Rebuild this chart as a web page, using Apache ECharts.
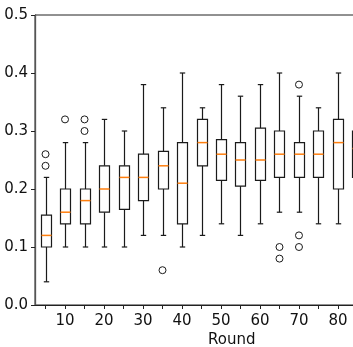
<!DOCTYPE html>
<html style="height: 100%; width: 100%;">
<head>
    <meta charset="utf-8">
    <title>Boxplot per round</title>
    <script src="https://cdn.jsdelivr.net/npm/echarts@6/dist/echarts.min.js"></script>
    <style>
        body, html {
            margin: 0;
            padding: 0;
            width: 100%;
            height: 100%;
            overflow: hidden;
            background: #fff;
        }

        #main {
            width: 353px;
            height: 347px;
        }
    </style>
</head>
<body>
<div id="main"></div>
<script type="text/javascript">
    // rounds and box stats
    var rounds = [5, 10, 15, 20, 25, 30, 35, 40, 45, 50, 55, 60, 65, 70, 75, 80, 85];
    var lowWhisker = [0.04, 0.10, 0.10, 0.10, 0.10, 0.12, 0.12, 0.10, 0.12, 0.14, 0.12, 0.14, 0.16, 0.16, 0.14, 0.14, 0.14];
    var q1 =         [0.10, 0.14, 0.14, 0.16, 0.165, 0.18, 0.20, 0.14, 0.24, 0.215, 0.205, 0.215, 0.22, 0.22, 0.22, 0.20, 0.22];
    var median =     [0.12, 0.16, 0.18, 0.20, 0.22, 0.22, 0.24, 0.21, 0.28, 0.26, 0.25, 0.25, 0.26, 0.26, 0.26, 0.28, 0.27];
    var q3 =         [0.155, 0.20, 0.20, 0.24, 0.24, 0.26, 0.265, 0.28, 0.32, 0.285, 0.28, 0.305, 0.30, 0.28, 0.30, 0.32, 0.30];
    var highWhisker = [0.22, 0.28, 0.28, 0.32, 0.30, 0.38, 0.34, 0.40, 0.34, 0.38, 0.36, 0.38, 0.40, 0.36, 0.34, 0.40, 0.38];

    var outlierRounds = [5, 5, 10, 15, 15, 35, 65, 65, 70, 70, 70];
    var outlierValues = [0.26, 0.24, 0.32, 0.32, 0.30, 0.06, 0.10, 0.08, 0.38, 0.12, 0.10];

    var xTicks = rounds;
    var xLabels = [10, 20, 30, 40, 50, 60, 70, 80];

    var boxData = rounds.map(function (r, i) {
        return [r, lowWhisker[i], q1[i], median[i], q3[i], highWhisker[i]];
    });
    var outlierData = outlierRounds.map(function (r, i) {
        return [r, outlierValues[i]];
    });

    function renderBox(params, api) {
        var x = api.value(0);
        var lo = api.coord([x, api.value(1)]);
        var b1 = api.coord([x, api.value(2)]);
        var md = api.coord([x, api.value(3)]);
        var b3 = api.coord([x, api.value(4)]);
        var hi = api.coord([x, api.value(5)]);
        var cx = Math.round(lo[0]) + 0.5;
        var hw = 5;   // half box width
        var cw = 2.7; // half cap width
        var dark = { stroke: '#1a1a1a', lineWidth: 1.2, fill: null };
        return {
            type: 'group',
            children: [
                { type: 'line', shape: { x1: cx, y1: lo[1], x2: cx, y2: b1[1] }, style: dark },
                { type: 'line', shape: { x1: cx, y1: b3[1], x2: cx, y2: hi[1] }, style: dark },
                { type: 'line', shape: { x1: cx - cw, y1: lo[1], x2: cx + cw, y2: lo[1] }, style: dark },
                { type: 'line', shape: { x1: cx - cw, y1: hi[1], x2: cx + cw, y2: hi[1] }, style: dark },
                { type: 'rect', shape: { x: cx - hw, y: b3[1], width: 2 * hw, height: b1[1] - b3[1] },
                  style: { stroke: '#1a1a1a', lineWidth: 1.2, fill: '#fff' } },
                { type: 'line', shape: { x1: cx - hw, y1: md[1], x2: cx + hw, y2: md[1] },
                  style: { stroke: '#ff7f0e', lineWidth: 1.5 } }
            ]
        };
    }

    var chart = echarts.init(document.getElementById('main'), null, { renderer: 'canvas' });

    var labelFont = { color: '#111', fontSize: 15, fontFamily: 'DejaVu Sans' };

    var option = {
        animation: false,
        grid: {
            left: 35,
            top: 15,
            width: 333,
            height: 290,
            outerBoundsMode: 'none',
            containLabel: false,
            show: true,
            borderColor: '#222',
            borderWidth: 1
        },
        xAxis: {
            type: 'value',
            min: 2.3,
            max: 87.7,
            splitLine: { show: false },
            axisLine: { lineStyle: { color: '#222', width: 1 } },
            axisTick: { customValues: xTicks, length: 4, lineStyle: { color: '#222' } },
            axisLabel: Object.assign({ customValues: xLabels, margin: 9 }, labelFont)
        },
        yAxis: {
            type: 'value',
            min: 0,
            max: 0.5,
            interval: 0.1,
            splitLine: { show: false },
            axisLine: { show: true, lineStyle: { color: '#555', width: 1.3 } },
            axisTick: { show: true, length: 4, lineStyle: { color: '#222' } },
            axisLabel: Object.assign({
                margin: 7,
                formatter: function (v) { return v.toFixed(1); }
            }, labelFont)
        },
        graphic: [{
            type: 'text',
            left: 208,
            top: 333,
            style: { text: 'Round', fill: '#111', font: '15px "DejaVu Sans"' }
        }],
        series: [
            {
                type: 'custom',
                renderItem: renderBox,
                data: boxData,
                encode: { x: 0, y: [1, 2, 3, 4, 5] },
                clip: false
            },
            {
                type: 'scatter',
                data: outlierData,
                symbol: 'circle',
                symbolSize: 7,
                itemStyle: { color: '#ffffff', borderColor: '#1a1a1a', borderWidth: 1, opacity: 1 }
            }
        ]
    };

    chart.setOption(option);
</script>
</body>
</html>
